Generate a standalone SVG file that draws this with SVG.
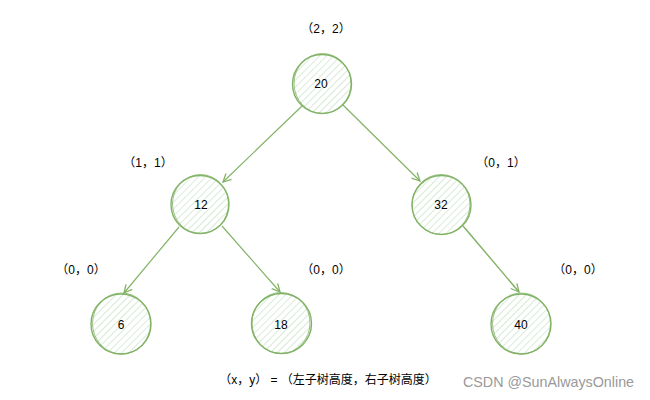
<svg xmlns="http://www.w3.org/2000/svg" width="650" height="400" viewBox="0 0 650 400">
  <defs>
    <pattern id="hatch" patternUnits="userSpaceOnUse" width="5" height="5" patternTransform="rotate(45)">
      <rect width="5" height="5" fill="#ffffff"/>
      <line x1="0" y1="0" x2="0" y2="5" stroke="#d5e8d4" stroke-width="1.8"/>
    </pattern>
    <marker id="arrow" markerUnits="userSpaceOnUse" markerWidth="12" markerHeight="12" refX="9" refY="5" orient="auto">
      <path d="M1,1 L9,5 L1,9" fill="none" stroke="#82b366" stroke-width="1.3"/>
    </marker>
  </defs>
  <style>
    .node circle { fill: url(#hatch); stroke: #82b366; stroke-width: 1.4; }
    .node ellipse { fill: none; stroke: #82b366; stroke-width: 1; opacity: 0.8; }
    .num { font-family: "Liberation Sans", Arial, sans-serif; font-size: 12px; fill: #000; text-anchor: middle; }
    .lbl { font-family: "Liberation Sans", "Noto Sans CJK SC", sans-serif; font-size: 12px; fill: #000; text-anchor: middle; }
    .edge line { stroke: #82b366; stroke-width: 1.2; fill: none; marker-end: url(#arrow); }
    .wm { font-family: "Liberation Sans", Arial, sans-serif; font-size: 14.3px; fill: #999999; }
  </style>
  <rect width="650" height="400" fill="#ffffff"/>

  <g id="connectors" class="edge">
    <line x1="302" y1="106" x2="223" y2="182"/>
    <line x1="343" y1="105" x2="420" y2="181"/>
    <line x1="179" y1="227" x2="124" y2="293"/>
    <line x1="222" y1="226" x2="280" y2="292"/>
    <line x1="463" y1="226" x2="519" y2="292"/>
    <line x1="465" y1="228" x2="519" y2="292" style="marker-end:none;opacity:0.6"/>
  </g>

  <g id="node-20" class="node">
    <circle cx="322" cy="84" r="29.5"/>
    <ellipse cx="322.5" cy="83.5" rx="28.5" ry="30"/>
    <text class="num" x="321" y="88">20</text>
  </g>
  <g id="node-12" class="node">
    <circle cx="200" cy="204.5" r="29"/>
    <ellipse cx="200.5" cy="204" rx="28" ry="29.5"/>
    <text class="num" x="201" y="209">12</text>
  </g>
  <g id="node-32" class="node">
    <circle cx="441.5" cy="205" r="29.5"/>
    <ellipse cx="441" cy="204.5" rx="29" ry="30"/>
    <text class="num" x="441" y="209">32</text>
  </g>
  <g id="node-6" class="node">
    <circle cx="121" cy="324" r="30"/>
    <ellipse cx="121.5" cy="323.5" rx="29" ry="30.5"/>
    <text class="num" x="121" y="329">6</text>
  </g>
  <g id="node-18" class="node">
    <circle cx="281.5" cy="323.5" r="30"/>
    <ellipse cx="281" cy="323" rx="29" ry="30.5"/>
    <text class="num" x="281" y="329">18</text>
  </g>
  <g id="node-40" class="node">
    <circle cx="521" cy="324" r="30"/>
    <ellipse cx="521.5" cy="323.5" rx="29" ry="30.5"/>
    <text class="num" x="521" y="329">40</text>
  </g>

  <g id="labels">
    <text class="lbl" x="326" y="33">（2，2）</text>
    <text class="lbl" x="148" y="167">（1，1）</text>
    <text class="lbl" x="501" y="167">（0，1）</text>
    <text class="lbl" x="81" y="274">（0，0）</text>
    <text class="lbl" x="326" y="274">（0，0）</text>
    <text class="lbl" x="578" y="274">（0，0）</text>
    <text class="lbl" x="328" y="384">（x，y） = （左子树高度，右子树高度）</text>
  </g>
  <text class="wm" x="463" y="387">CSDN @SunAlwaysOnline</text>
</svg>
